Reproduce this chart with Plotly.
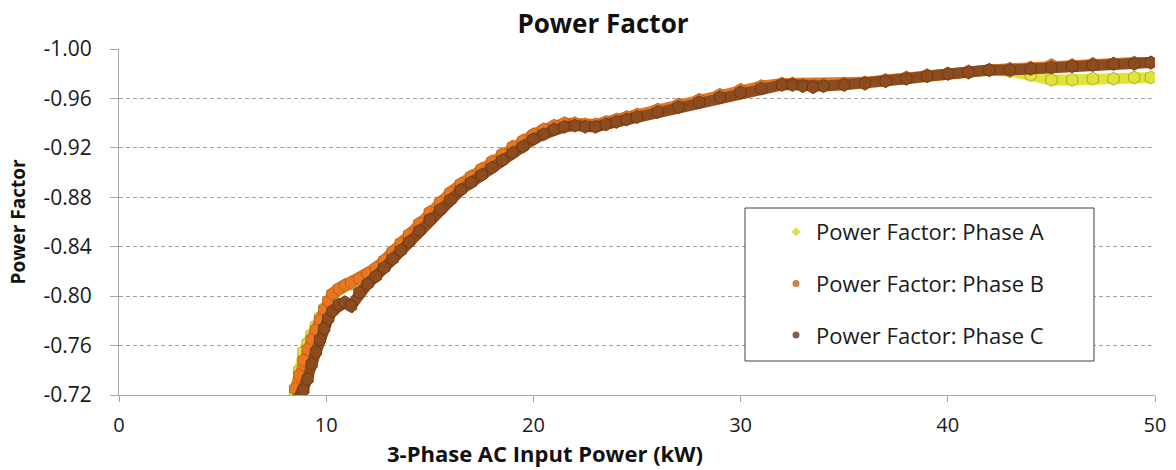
import plotly.graph_objects as go

# ---------------- data ----------------
power_kw = [8.5, 8.7, 8.9, 9.1, 9.3, 9.5, 9.7, 9.9, 10.1, 10.3, 10.6, 10.9,
            11.2, 11.6, 12.0, 12.4, 12.8, 13.2, 13.6, 14.0, 14.5, 15.0, 15.5,
            16.0, 16.5, 17.0, 17.5, 18.0, 18.5, 19.0, 19.5, 20.0, 20.5, 21.0,
            21.5, 22.0, 22.5, 23.0, 23.5, 24.0, 24.5, 25.0, 26.0, 27.0, 28.0,
            29.0, 30.0, 31.0, 32.0, 32.5, 33.0, 33.5, 34.0, 35.0, 36.0, 37.0,
            38.0, 39.0, 40.0, 41.0, 42.0, 43.0, 44.0, 45.0, 46.0, 47.0, 48.0,
            49.0, 49.8]

pf_phase_a = [-0.722, -0.740, -0.755, -0.762, -0.769, -0.776, -0.783, -0.790,
              -0.796, -0.801, -0.805, -0.808, -0.810, -0.813, -0.817, -0.822,
              -0.828, -0.835, -0.842, -0.849, -0.858, -0.867, -0.875, -0.883,
              -0.890, -0.896, -0.902, -0.908, -0.914, -0.920, -0.925, -0.930,
              -0.934, -0.937, -0.939, -0.939, -0.938, -0.938, -0.940, -0.942,
              -0.944, -0.946, -0.950, -0.954, -0.958, -0.962, -0.966, -0.969,
              -0.971, -0.971, -0.970, -0.970, -0.970, -0.971, -0.972, -0.974,
              -0.976, -0.978, -0.980, -0.981, -0.983, -0.982, -0.979, -0.975,
              -0.975, -0.976, -0.976, -0.977, -0.977]

pf_phase_b = [-0.725, -0.736, -0.748, -0.757, -0.765, -0.773, -0.781, -0.789,
              -0.796, -0.802, -0.806, -0.809, -0.811, -0.814, -0.818, -0.823,
              -0.829, -0.836, -0.843, -0.850, -0.859, -0.868, -0.876, -0.884,
              -0.891, -0.897, -0.903, -0.909, -0.915, -0.921, -0.926, -0.931,
              -0.935, -0.938, -0.940, -0.940, -0.939, -0.939, -0.941, -0.943,
              -0.945, -0.947, -0.951, -0.955, -0.959, -0.963, -0.967, -0.970,
              -0.972, -0.972, -0.971, -0.971, -0.971, -0.972, -0.973, -0.975,
              -0.977, -0.979, -0.980, -0.982, -0.983, -0.984, -0.985, -0.987,
              -0.987, -0.988, -0.988, -0.989, -0.989]

pf_phase_c = [-0.712, -0.718, -0.724, -0.733, -0.745, -0.755, -0.765, -0.774,
              -0.782, -0.788, -0.793, -0.795, -0.792, -0.803, -0.810, -0.816,
              -0.823, -0.830, -0.837, -0.844, -0.853, -0.862, -0.870, -0.878,
              -0.886, -0.892, -0.898, -0.904, -0.910, -0.916, -0.921, -0.927,
              -0.931, -0.935, -0.937, -0.938, -0.937, -0.937, -0.939, -0.941,
              -0.943, -0.945, -0.949, -0.953, -0.957, -0.961, -0.965, -0.968,
              -0.971, -0.971, -0.970, -0.969, -0.970, -0.971, -0.972, -0.974,
              -0.976, -0.978, -0.980, -0.981, -0.983, -0.983, -0.984, -0.985,
              -0.986, -0.987, -0.988, -0.988, -0.989]

series_names = ["Power Factor: Phase A", "Power Factor: Phase B", "Power Factor: Phase C"]

x_tick_values = [0, 10, 20, 30, 40, 50]
y_tick_values = [-1.00, -0.96, -0.92, -0.88, -0.84, -0.80, -0.76, -0.72]
y_tick_labels = ["-1.00", "-0.96", "-0.92", "-0.88", "-0.84", "-0.80", "-0.76", "-0.72"]

# ---------------- styling ----------------
FONT = "Open Sans"
fills = ["#dfe33c", "#e8781f", "#8c4c20"]
edges = ["#9fa51a", "#b85a18", "#6a3612"]
legend_fills = ["#d8e04a", "#c98040", "#80604c"]

fig = go.Figure()

for name, ys, fc, ec in zip(series_names, [pf_phase_a, pf_phase_b, pf_phase_c], fills, edges):
    fig.add_trace(go.Scatter(
        x=power_kw, y=ys, mode="lines+markers", name=name, showlegend=False,
        line=dict(color=fc, width=11),
        marker=dict(symbol="hexagon", size=13, color=fc, line=dict(color=ec, width=0.8)),
        hoverinfo="skip",
    ))

# legend entries
for i, (name, fc) in enumerate(zip(series_names, legend_fills)):
    fig.add_trace(go.Scatter(
        x=[None], y=[None], mode="markers", name=name, legendgroup=name,
        marker=dict(symbol="diamond" if i == 0 else "circle", size=7, color=fc),
    ))

W, H = 1176, 470
L, R, T, B = 119, 21, 49, 75
pw, ph = W - L - R, H - T - B

def px_x(p):
    return (p - L) / pw

def px_y(p):
    return (H - B - p) / ph

fig.add_shape(type="rect", xref="paper", yref="paper",
              x0=px_x(745), x1=px_x(1094), y0=px_y(361), y1=px_y(208),
              fillcolor="white", line=dict(color="#404040", width=1), layer="above")

# x-axis title (off-centre in the reference)
fig.add_annotation(text="<b>3-Phase AC Input Power (kW)</b>", xref="paper", yref="paper",
                   x=px_x(545), y=px_y(453), xanchor="center", yanchor="middle",
                   showarrow=False, font=dict(family=FONT, size=22, color="#111111"))

fig.update_layout(
    width=W, height=H,
    margin=dict(l=L, r=R, t=T, b=B, autoexpand=False),
    paper_bgcolor="white", plot_bgcolor="white",
    font=dict(family=FONT, color="#1a1a1a", size=20),
    title=dict(text="<b>Power Factor</b>", x=603 / W, xref="container", xanchor="center",
               y=1 - 24 / H, yref="container", yanchor="middle",
               font=dict(family=FONT, size=26, color="#111111")),
    showlegend=True,
    legend=dict(x=px_x(776), y=px_y(211), xanchor="left", yanchor="top",
                bgcolor="rgba(0,0,0,0)", borderwidth=0,
                font=dict(family=FONT, size=22, color="#1a1a1a"),
                traceorder="grouped", tracegroupgap=20),
    xaxis=dict(range=[0, 50], tickvals=x_tick_values, showgrid=False, zeroline=False,
               showline=True, linecolor="#a6a6a6", linewidth=1,
               ticks="outside", ticklen=6, tickcolor="#a6a6a6",
               ticklabelstandoff=6,
               tickfont=dict(family=FONT, size=20, color="#1a1a1a")),
    yaxis=dict(range=[-0.72, -1.00], tickvals=y_tick_values, ticktext=y_tick_labels,
               showgrid=True, gridcolor="#a0a0a0", griddash="4px,3px", gridwidth=1,
               zeroline=False, showline=True, linecolor="#a6a6a6", linewidth=1,
               ticks="outside", ticklen=8, tickcolor="#a6a6a6",
               ticklabelstandoff=14,
               tickfont=dict(family=FONT, size=21, color="#1a1a1a"),
               title=dict(text="<b>Power Factor</b>", standoff=12,
                          font=dict(family=FONT, size=19, color="#111111"))),
)

fig.write_html("out.html", config={"displayModeBar": False})
